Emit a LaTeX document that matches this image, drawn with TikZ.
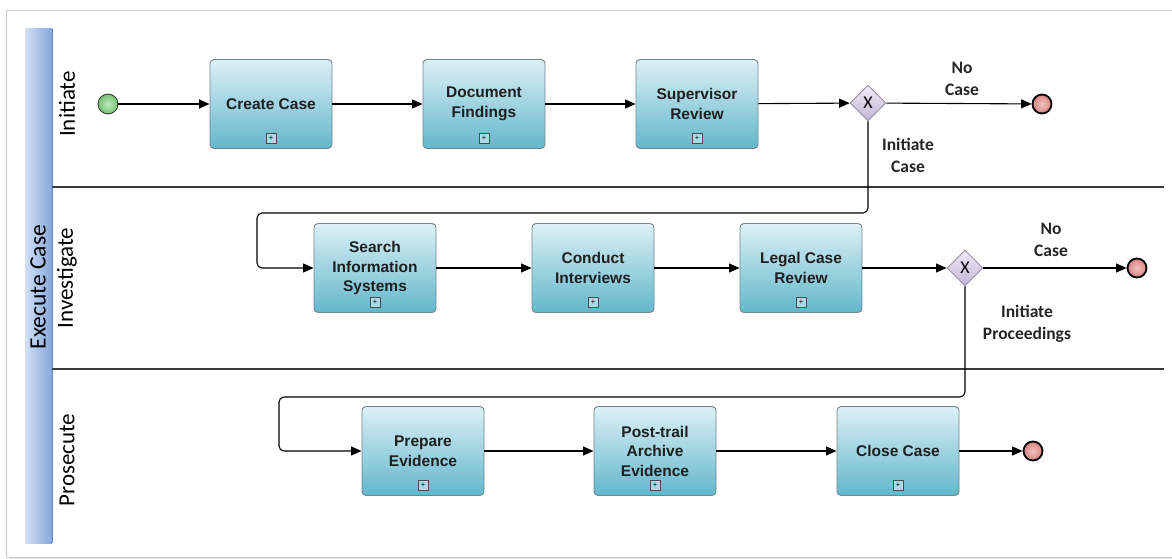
\documentclass[tikz,border=0pt]{standalone}
\usepackage{fontspec}
\setmainfont{Liberation Sans}
\newfontfamily\calfont{Carlito}
\usetikzlibrary{arrows.meta,shapes.geometric}
\definecolor{tasktop}{HTML}{DCF0F6}
\definecolor{taskbot}{HTML}{62B7CB}
\definecolor{taskedge}{HTML}{76868C}
\definecolor{bandL}{HTML}{D2E0F4}
\definecolor{bandR}{HTML}{86A6DC}
\definecolor{bandedge}{HTML}{6A86C0}
\definecolor{gwtop}{HTML}{F0EAF6}
\definecolor{gwbot}{HTML}{C4B6D6}
\definecolor{gwedge}{HTML}{9A92A6}
\definecolor{laneline}{HTML}{3A3A3A}
\definecolor{endfill}{HTML}{E58A8A}
\definecolor{startfill}{HTML}{7DD67D}
\begin{document}
\begin{tikzpicture}[x=1pt,y=-1pt,
  task/.style={draw=taskedge,line width=0.9pt,rounded corners=4pt,top color=tasktop,bottom color=taskbot,
    minimum width=122pt,minimum height=89pt,align=center,font=\fontsize{15.5}{19.5}\selectfont\bfseries,text=black!88,inner sep=2pt},
  marker/.style={draw=black!70,line width=0.7pt,fill=tasktop!60!taskbot,minimum size=10pt,inner sep=0pt,font=\fontsize{7.5}{7.5}\selectfont},
  gw/.style={diamond,draw=gwedge,line width=0.9pt,top color=gwtop,bottom color=gwbot,minimum size=36pt,inner sep=0pt,font=\calfont\fontsize{18}{18}\selectfont},
  startev/.style={circle,draw=black!75,line width=0.9pt,inner color=startfill!50,outer color=startfill!90!black,minimum size=20pt,inner sep=0pt},
  endev/.style={circle,draw=black,line width=1.8pt,inner color=endfill!55,outer color=endfill!95!black,minimum size=19pt,inner sep=0pt},
  flow/.style={line width=1.1pt,-{Triangle[length=10.5pt,width=9pt]},rounded corners=5pt},
  lbl/.style={font=\calfont\fontsize{17.5}{22}\selectfont\bfseries,align=center,text=black!85},
  lane/.style={font=\calfont\fontsize{23}{23}\selectfont,rotate=90,text=black},
  divider/.style={draw=laneline,line width=1.2pt}]
\useasboundingbox (0,0) rectangle (1172,559);
\fill[white] (0,0) rectangle (1172,559);
% page frame
\fill[black!10] (9,13) rectangle (1172,561);
\fill[white,draw=black!20,line width=0.8pt] (6,10) rectangle (1176,557);
% pool band
\shade[left color=bandL,right color=bandR] (25,29) rectangle (52,543);
\draw[bandedge,line width=1pt] (52,29) -- (52,543);
\node[font=\calfont\fontsize{23.5}{23.5}\selectfont,rotate=90] (pool) at (38,287) {Execute Case};
% lanes
\draw[divider] (52,187) -- (1164,187);
\draw[divider] (52,369) -- (1164,369);
\node[lane] (l1) at (67,104) {Initiate};
\node[lane] (l2) at (67,278) {Investigate};
\node[lane] (l3) at (67,460) {Prosecute};
% lane 1
\node[startev] (s) at (108,104) {};
\node[task] (t1) at (271,104) {Create Case};
\node[task] (t2) at (484,104) {Document\\Findings};
\node[task] (t3) at (697,104) {Supervisor\\Review};
\node[gw] (g1) at (868,103) {X};
\node[endev] (e1) at (1042,104) {};
% lane 2
\node[task] (t4) at (375,268) {Search\\Information\\Systems};
\node[task] (t5) at (593,268) {Conduct\\Interviews};
\node[task] (t6) at (801,268) {Legal Case\\Review};
\node[gw] (g2) at (965,268) {X};
\node[endev] (e2) at (1137,268) {};
% lane 3
\node[task] (t7) at (423,451) {Prepare\\Evidence};
\node[task] (t8) at (655,451) {Post-trail\\Archive\\Evidence};
\node[task] (t9) at (898,451) {Close Case};
\node[endev] (e3) at (1033,451) {};
% markers
\foreach \t in {t1,t2,t3,t4,t5,t6,t7,t8,t9}
  \node[marker] (m\t) at ([yshift=11pt]\t.south) {+};
% flows
\draw[flow] (s) -- (t1);
\draw[flow] (t1) -- (t2);
\draw[flow] (t2) -- (t3);
\draw[flow] (t3) -- (g1);
\draw[flow] (g1) -- (e1);
\draw[flow] (g1.south) -- (868,213) -- (257,213) -- (257,268) -- (t4.west);
\draw[flow] (t4) -- (t5);
\draw[flow] (t5) -- (t6);
\draw[flow] (t6) -- (g2);
\draw[flow] (g2) -- (e2);
\draw[flow] (g2.south) -- (965,397) -- (279,397) -- (279,451) -- (t7.west);
\draw[flow] (t7) -- (t8);
\draw[flow] (t8) -- (t9);
\draw[flow] (t9) -- (e3);
% labels
\node[lbl] (n1) at (962,79) {No\\Case};
\node[lbl] (i1) at (908,155) {Initiate\\Case};
\node[lbl] (n2) at (1051,240) {No\\Case};
\node[lbl] (i2) at (1027,324) {Initiate\\Proceedings};
\end{tikzpicture}
\end{document}
